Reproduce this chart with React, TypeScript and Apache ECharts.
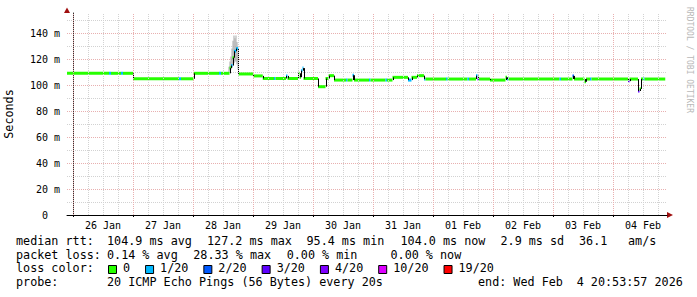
import React, { useEffect, useRef } from 'react';
import * as echarts from 'echarts';

// ---- data (hours are counted from 26 Jan 00:00) ----
const dayLabels = ['26 Jan', '27 Jan', '28 Jan', '29 Jan', '30 Jan', '31 Jan', '01 Feb', '02 Feb', '03 Feb', '04 Feb'];
const dayLabelHours = [12, 36, 60, 84, 108, 132, 156, 180, 204, 228];
const midnightHours = [0, 24, 48, 72, 96, 120, 144, 168, 192, 216];
const yLabelValues = [0, 20, 40, 60, 80, 100, 120, 140];

const startHour = -2.4;
const endHour = 236.9;

// median rtt segments: start hour, median (ms), loss colour index
const segStart = [
  -2.4, 14.4, 15.2, 19.2, 20.0, 24.0, 42.4, 43.2, 48.2, 58.4, 59.2, 62.6, 63.2, 63.8, 64.4, 65.2, 66.1,
  72.1, 75.9, 80.4, 81.0, 85.2, 85.8, 90.0, 90.6, 91.2, 91.8, 92.2, 98.0, 101.0, 102.2, 104.4,
  109.2, 109.8, 111.8, 112.4, 118.4, 119.0, 125.0, 125.6, 127.8, 134.0, 135.4, 137.6, 140.4, 141.0,
  149.2, 149.8, 157.8, 158.4, 161.2, 161.8, 162.4, 166.8, 173.0, 173.6, 174.2, 194.6, 195.2,
  199.8, 200.4, 204.6, 205.2, 206.8, 207.4, 222.0, 222.6, 226.0, 226.6, 227.2, 228.0, 228.6,
];
const segMedian = [
  109, 109, 109, 109, 109, 104.8, 104.8, 104.8, 109, 109, 109, 113, 115, 121, 126, 128, 108.5,
  107, 105, 105, 105, 107, 105, 109, 106, 111, 113, 105, 98.7, 105, 107.2, 103.8,
  103.8, 103.8, 107.5, 103.8, 103.8, 103.8, 103.8, 103.8, 105.9, 103.8, 105.9, 107.2, 104.6, 104.6,
  104.6, 104.6, 104.6, 104.6, 107.2, 104.6, 104.6, 103.8, 105.9, 104.6, 104.6, 104.6, 104.6,
  107, 104.6, 102.5, 104.6, 104.6, 104.6, 103, 104.6, 95.4, 97, 104.6, 104.6, 104.6,
];
const segLoss = [
  0, 1, 0, 1, 0, 0, 1, 0, 0, 1, 0, 0, 1, 0, 1, 1, 0,
  0, 0, 1, 0, 1, 0, 0, 0, 1, 1, 0, 0, 0, 0, 0,
  1, 0, 1, 0, 1, 0, 1, 0, 0, 1, 0, 0, 1, 0,
  1, 0, 1, 0, 1, 3, 0, 0, 0, 1, 0, 1, 0,
  2, 0, 0, 0, 1, 0, 3, 0, 3, 0, 0, 1, 0,
];

// smoke (spread of the pings) around the 28 Jan spike
const smokeHour = [62.4, 62.8, 63.2, 63.6, 64.0, 64.4, 64.8, 65.2, 65.6, 66.0];
const smokeLow = [110, 111, 112, 113, 115, 117, 118, 118, 116, 112];
const smokeHigh = [114, 118, 122, 128, 134, 138, 136, 138, 133, 125];

const lossLabels = ['0', '1/20', '2/20', '3/20', '4/20', '10/20', '19/20'];
const lossColors = ['#26ff00', '#00b8ff', '#0059ff', '#5e00ff', '#7e00ff', '#dd00ff', '#ff0000'];

const rttRow = [
  ['median rtt:', 16], ['104.9 ms avg', 107], ['127.2 ms max', 207], ['95.4 ms min', 306.5],
  ['104.0 ms now', 400.5], ['2.9 ms sd', 500.5], ['36.1', 579], ['am/s', 628],
] as [string, number][];
const lossRow = [
  ['packet loss:', 16], ['0.14 % avg', 107], ['28.33 % max', 193.3], ['0.00 % min', 286.7], ['0.00 % now', 390.5],
] as [string, number][];
const probeRow = [
  ['probe:', 16], ['20 ICMP Echo Pings (56 Bytes) every 20s', 107], ['end: Wed Feb', 478], ['4 20:53:57 2026', 576.7],
] as [string, number][];

const MONO = 'DejaVu Sans Mono';
const RED_GRID = '#e8b0b0';
const GRAY_GRID = '#d2d2d2';

export default function App() {
  const ref = useRef<HTMLDivElement>(null);

  useEffect(() => {
    if (!ref.current) return;
    const chart = echarts.init(ref.current, undefined, { renderer: 'svg' });

    const gridHours: number[] = [];
    for (let h = 0; h <= 234; h += 6) gridHours.push(h);

    const segData = segStart.map((t, i) => [
      t,
      i + 1 < segStart.length ? segStart[i + 1] : endHour,
      segMedian[i],
      i > 0 ? segMedian[i - 1] : segMedian[i],
      segLoss[i],
    ]);
    const smokeData = smokeHour.map((h, i) => [h, smokeLow[i], smokeHigh[i]]);

    const fs = 11.75;
    const rowY = [241.2, 254.8, 268.4, 282.2];
    const graphics: any[] = [];
    const addRow = (row: [string, number][], y: number) =>
      row.forEach(([t, x]) =>
        graphics.push({ type: 'text', x, y, style: { text: t, fill: '#000', font: `${fs}px ${MONO}`, verticalAlign: 'middle', align: 'left' } })
      );
    addRow(rttRow, rowY[0]);
    addRow(lossRow, rowY[1]);
    addRow(probeRow, rowY[3]);
    graphics.push({ type: 'text', x: 16, y: rowY[2], style: { text: 'loss color:', fill: '#000', font: `${fs}px ${MONO}`, verticalAlign: 'middle' } });
    let bx = 108;
    lossLabels.forEach((lab, i) => {
      graphics.push({ type: 'rect', shape: { x: bx + 0.5, y: 265.5, width: 8, height: 8 }, style: { fill: lossColors[i], stroke: '#000', lineWidth: 1 } });
      const tx = bx + 15;
      graphics.push({ type: 'text', x: tx, y: rowY[2], style: { text: lab, fill: '#000', font: `${fs}px ${MONO}`, verticalAlign: 'middle' } });
      bx = tx + lab.length * 7.07 + 15;
    });
    // axis arrows
    graphics.push({ type: 'polygon', shape: { points: [[667, 212], [673, 215], [667, 218]] }, style: { fill: '#a01010' } });
    graphics.push({ type: 'polygon', shape: { points: [[64, 13], [67, 7.5], [70, 13]] }, style: { fill: '#a01010' } });
    // axis title
    graphics.push({ type: 'text', x: 9.3, y: 114, rotation: Math.PI / 2, style: { text: 'Seconds', fill: '#000', font: `${fs}px ${MONO}`, align: 'center', verticalAlign: 'middle' } });
    // watermark
    graphics.push({ type: 'text', x: 689.5, y: 60, rotation: -Math.PI / 2, style: { text: 'RRDTOOL / TOBI OETIKER', fill: '#b8b8b8', font: `8px ${MONO}`, align: 'center', verticalAlign: 'middle' } });

    const option: any = {
      animation: false,
      backgroundColor: '#fff',
      textStyle: { fontFamily: MONO },
      grid: { left: 67, right: 30, top: 13, bottom: 82, containLabel: false },
      xAxis: {
        type: 'value',
        min: startHour,
        max: 237.6,
        axisLine: { show: true, onZero: false, lineStyle: { color: '#000', width: 1 } },
        axisTick: { show: true, customValues: midnightHours, length: 2, lineStyle: { color: '#000' } },
        axisLabel: {
          customValues: dayLabelHours,
          formatter: (v: number) => {
            const i = dayLabelHours.indexOf(Math.round(v));
            return i >= 0 ? dayLabels[i] : '';
          },
          color: '#000',
          fontSize: 10,
          fontFamily: MONO,
          margin: 5,
        },
        splitLine: { show: false },
      },
      yAxis: {
        type: 'value',
        min: 0,
        max: 155.4,
        interval: 10,
        axisLine: { show: true, lineStyle: { color: '#333', width: 1 } },
        axisTick: { show: false },
        axisLabel: {
          formatter: (v: number) => {
            if (!yLabelValues.includes(Math.round(v)) || Math.abs(v - Math.round(v)) > 0.01) return '';
            return v === 0 ? '{z|0}' : `${v} m`;
          },
          rich: { z: { padding: [0, 12, 0, 0], fontSize: 10, fontFamily: MONO, color: '#000' } },
          color: '#000',
          fontSize: 10,
          fontFamily: MONO,
          margin: 7,
        },
        splitLine: { show: true, showMaxLine: false, lineStyle: { color: [RED_GRID, GRAY_GRID], type: [1, 1], width: 1 } },
      },
      series: [
        {
          type: 'line',
          data: [],
          z: 1,
          silent: true,
          markLine: {
            silent: true,
            symbol: ['none', 'none'],
            label: { show: false },
            animation: false,
            data: gridHours.map((h) => ({
              xAxis: h,
              lineStyle: { color: h % 24 === 0 ? RED_GRID : GRAY_GRID, type: [1, 1], width: 1 },
            })),
          },
        },
        {
          type: 'custom',
          z: 2,
          silent: true,
          data: smokeData,
          encode: { x: 0, y: [1, 2] },
          renderItem: (params: any, api: any) => {
            const h = api.value(0);
            const a = api.coord([h - 0.2, api.value(2)]);
            const b = api.coord([h + 0.2, api.value(1)]);
            return {
              type: 'rect',
              shape: { x: a[0], y: a[1], width: b[0] - a[0], height: b[1] - a[1] },
              style: { fill: '#a8a8a8' },
            };
          },
        },
        {
          type: 'custom',
          z: 3,
          silent: true,
          data: segData,
          encode: { x: [0, 1], y: [2, 3] },
          renderItem: (params: any, api: any) => {
            const t0 = api.value(0);
            const t1 = api.value(1);
            const v = api.value(2);
            const pv = api.value(3);
            const loss = api.value(4);
            const p0 = api.coord([t0, v]);
            const p1 = api.coord([t1, v]);
            const pp = api.coord([t0, pv]);
            return {
              type: 'group',
              children: [
                { type: 'rect', shape: { x: p0[0], y: p0[1] - 1.5, width: p1[0] - p0[0], height: 3 }, style: { fill: lossColors[loss] } },
                { type: 'line', shape: { x1: Math.round(p0[0]) + 0.5, y1: pp[1], x2: Math.round(p0[0]) + 0.5, y2: p0[1] }, style: { stroke: '#000', lineWidth: 1 } },
              ],
            };
          },
        },
      ],
      graphic: graphics,
    };

    chart.setOption(option);
    return () => chart.dispose();
  }, []);

  return (
    <div
      ref={ref}
      style={{ position: 'fixed', left: 0, top: 0, width: 697, height: 297, background: '#fff' }}
    />
  );
}
